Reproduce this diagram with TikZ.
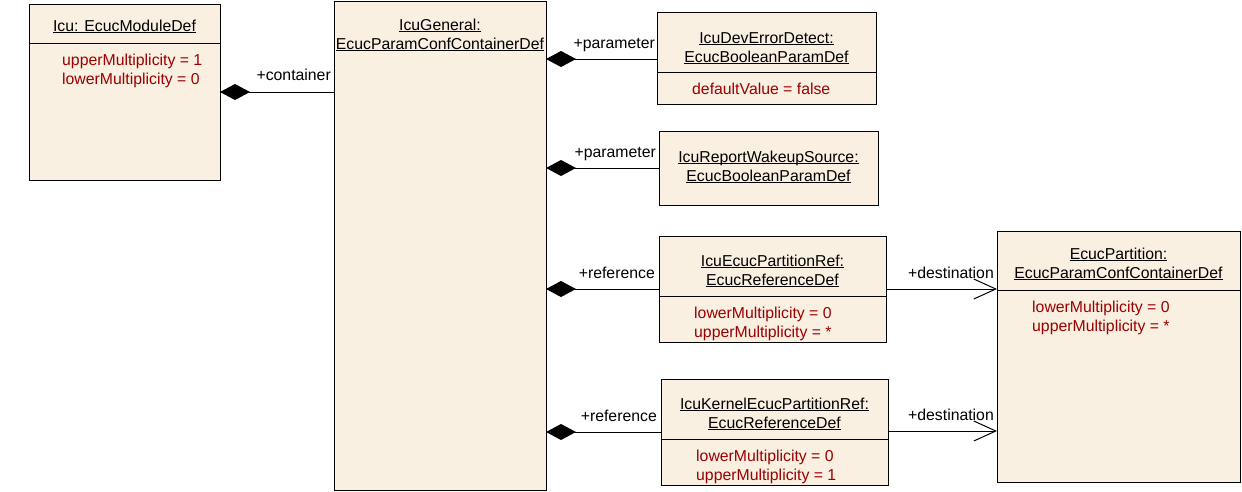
\documentclass[tikz,border=0pt]{standalone}
\usepackage{fontspec}
\setmainfont{Liberation Sans}
\usetikzlibrary{arrows.meta}
\definecolor{boxfill}{RGB}{250,240,226}
\definecolor{attrred}{RGB}{155,0,0}
\newcommand\ulx[1]{\underline{\smash{#1}}}
\begin{document}
\begin{tikzpicture}[x=1pt,y=-1pt,
  font=\fontsize{15.8}{19}\selectfont,
  umlbox/.style={draw, fill=boxfill, line width=1pt, anchor=north west, inner sep=0pt, outer sep=0pt},
  ttl/.style={anchor=base, inner sep=0pt},
  att/.style={anchor=base west, inner sep=0pt, text=attrred},
  lbl/.style={anchor=base east, inner sep=0pt},
  sep/.style={line width=1pt},
  comp/.style={line width=1pt, {Diamond[length=30pt,width=16pt]}-},
  nav/.style={line width=1pt, -{Straight Barb[length=22pt,width=20pt]}},
]
\useasboundingbox (0,0) rectangle (1242,491);

% Icu: EcucModuleDef
\node[umlbox, minimum width=191pt, minimum height=176pt] (mod) at (29,4) {};
\node[ttl] (modt) at (124.5,31) {\ulx{Icu: EcucModuleDef}};
\draw[sep] (mod.west |- 0,43) -- (mod.east |- 0,43);
\node[att] (moda1) at (62,65) {upperMultiplicity = 1};
\node[att] (moda2) at (62,84) {lowerMultiplicity = 0};

% IcuGeneral
\node[umlbox, minimum width=212pt, minimum height=489pt] (gen) at (334,1) {};
\node[ttl] (gent1) at (440,30) {\ulx{IcuGeneral:}};
\node[ttl] (gent2) at (440,49) {\ulx{EcucParamConfContainerDef}};

% IcuDevErrorDetect
\node[umlbox, minimum width=219pt, minimum height=92pt] (dev) at (657,12) {};
\node[ttl] (devt1) at (766.5,43) {\ulx{IcuDevErrorDetect:}};
\node[ttl] (devt2) at (766.5,62) {\ulx{EcucBooleanParamDef}};
\draw[sep] (dev.west |- 0,72) -- (dev.east |- 0,72);
\node[att] (deva1) at (692,94) {defaultValue = false};

% IcuReportWakeupSource
\node[umlbox, minimum width=219pt, minimum height=74pt] (wak) at (659,131) {};
\node[ttl] (wakt1) at (768.5,162) {\ulx{IcuReportWakeupSource:}};
\node[ttl] (wakt2) at (768.5,181) {\ulx{EcucBooleanParamDef}};

% IcuEcucPartitionRef
\node[umlbox, minimum width=227pt, minimum height=106pt] (pref) at (659,236) {};
\node[ttl] (preft1) at (772.5,266) {\ulx{IcuEcucPartitionRef:}};
\node[ttl] (preft2) at (772.5,285) {\ulx{EcucReferenceDef}};
\draw[sep] (pref.west |- 0,296) -- (pref.east |- 0,296);
\node[att] (prefa1) at (694,318) {lowerMultiplicity = 0};
\node[att] (prefa2) at (694,337) {upperMultiplicity = *};

% IcuKernelEcucPartitionRef
\node[umlbox, minimum width=227pt, minimum height=106pt] (kref) at (661,379) {};
\node[ttl] (kreft1) at (774.5,409) {\ulx{IcuKernelEcucPartitionRef:}};
\node[ttl] (kreft2) at (774.5,428) {\ulx{EcucReferenceDef}};
\draw[sep] (kref.west |- 0,439) -- (kref.east |- 0,439);
\node[att] (krefa1) at (696,461) {lowerMultiplicity = 0};
\node[att] (krefa2) at (696,480) {upperMultiplicity = 1};

% EcucPartition
\node[umlbox, minimum width=243pt, minimum height=251pt] (part) at (997,231) {};
\node[ttl] (partt1) at (1118.5,259) {\ulx{EcucPartition:}};
\node[ttl] (partt2) at (1118.5,278) {\ulx{EcucParamConfContainerDef}};
\draw[sep] (part.west |- 0,290) -- (part.east |- 0,290);
\node[att] (parta1) at (1032,312) {lowerMultiplicity = 0};
\node[att] (parta2) at (1032,331) {upperMultiplicity = *};

% connectors
\draw[comp] (mod.east |- 0,92) -- (gen.west |- 0,92);
\node[lbl] (l1) at (331,80) {+container};

\draw[comp] (gen.east |- 0,59) -- (dev.west |- 0,59);
\node[lbl] (l2) at (655,48) {+parameter};

\draw[comp] (gen.east |- 0,168) -- (wak.west |- 0,168);
\node[lbl] (l3) at (656,157) {+parameter};

\draw[comp] (gen.east |- 0,289) -- (pref.west |- 0,289);
\node[lbl] (l4) at (655,278) {+reference};

\draw[comp] (gen.east |- 0,432) -- (kref.west |- 0,432);
\node[lbl] (l5) at (657,421) {+reference};

\draw[nav] (pref.east |- 0,289) -- (part.west |- 0,289);
\node[lbl] (l6) at (994,278) {+destination};

\draw[nav] (kref.east |- 0,431) -- (part.west |- 0,431);
\node[lbl] (l7) at (994,420) {+destination};
\end{tikzpicture}
\end{document}
